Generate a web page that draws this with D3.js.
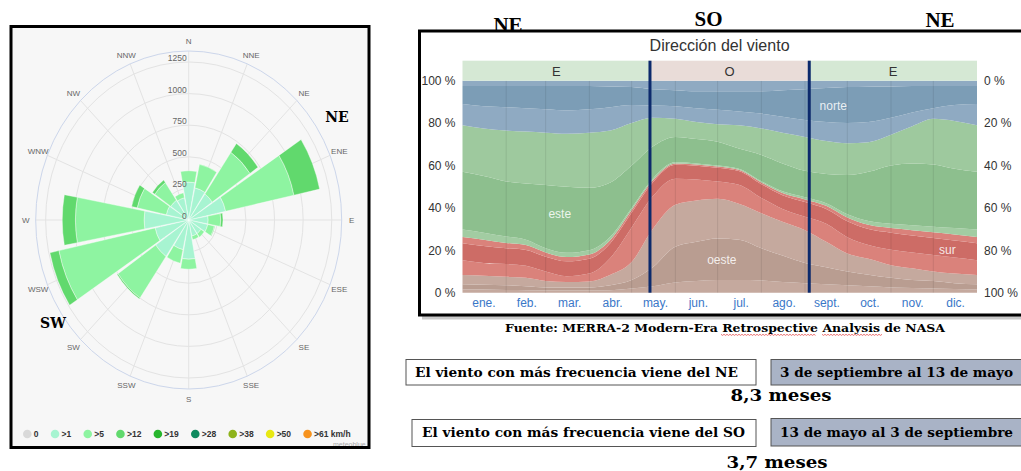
<!DOCTYPE html>
<html>
<head>
<meta charset="utf-8">
<script src="https://cdn.jsdelivr.net/npm/d3@7"></script>
<style>
  body { margin: 0; background: #fff; }
  svg { display: block; }
</style>
</head>
<body>
<div class="container"></div>
<script>
// ---------- wind rose (left) ----------
var roseDirections = ["N","NNE","NE","ENE","E","ESE","SE","SSE","S","SSW","SW","WSW","W","WNW","NW","NNW"];
var roseOver1  = [300, 260, 250, 330, 170, 170, 130, 130, 310, 240, 350, 300, 390, 200, 190, 180];
var roseOver5  = [ 90, 190, 400, 610, 110,  60,  35,  30,  80, 110, 400, 860, 600, 260, 170,  40];
var roseOver12 = [  0,   0,  85, 230,  20,   5,   0,   0,   0,   0,  10,  80, 115,  50,  25,   0];
var roseTicks = [0, 250, 500, 750, 1000, 1250];
var roseMax = 1337;
var legendLabels = ["0", ">1", ">5", ">12", ">19", ">28", ">38", ">50", ">61 km/h"];

// ---------- wind direction (right) ----------
var monthLabels = ["ene.","feb.","mar.","abr.","may.","jun.","jul.","ago.","sept.","oct.","nov.","dic."];
var monthStarts = [0, 31, 59, 90, 120, 151, 181, 212, 243, 273, 304, 334, 365];
var sampleDays  = [0, 15, 31, 45, 59, 74, 90, 105, 120, 135, 151, 166, 181, 196, 212, 227, 243, 258, 273, 288, 304, 319, 334, 349, 365];
var seasonStart = [0, 133, 246];
var seasonEnd   = [133, 246, 365];
var seasonLabel = ["E", "O", "E"];
var changeDays  = [133, 246];

// percentage of hours, stacked from the bottom (0 %) to the top (100 %)
var noroesteOeste = [1.5,1.5,1.3,1.2,1,1,1,1.2,2,3,4.8,5.5,6,6,5.8,5,4.5,4,3.5,3,2.5,2.2,2,1.8,1.5];
var oeste         = [2.5,2.3,2.2,1.8,1.5,1.5,1.5,2.3,4,9,16.9,18.5,19.6,19,15.2,12.5,9.5,8,6.5,5.5,4.5,3.8,3.5,2.7,2.5];
var suroesteOeste = [4.3,4.2,4,4,3,2.5,2.8,5,8.5,18,19.8,19.5,18.7,17,16.5,16,15.5,12,8.5,7.5,6,5.5,4.5,4.5,4.3];
var suroesteSur   = [7,6,6,5.7,4.5,2.8,3.7,8,16.3,15.5,12.3,9.9,8.1,8.9,7.2,6,6.3,8.5,7.7,6.5,7.3,7.5,7.8,7.6,7];
var sur           = [8,8,7.5,7.5,7,7,7,7,7,6.5,6.5,6.5,6.5,6.5,6.5,6.5,7,7,7.5,7.5,8,8,8,8,8];
var suresteSur    = [3,3,2.5,2.3,2,2,2,1.5,1.2,1,0.7,0.6,0.6,0.6,0.8,1,1.2,1.5,1.8,2,2.2,2.5,2.7,2.9,3];
var suresteEste   = [3.5,3.3,3,2.5,2,2,2,1.5,1,0.8,0.5,0.5,0.5,0.5,0.6,0.8,1,1.2,1.5,1.8,2,2.3,2.6,3,3.5];
var este          = [27.2,26.7,26,26.5,29.8,31.2,29.5,25.5,20,15.2,12,11.5,11.2,9.5,12.4,13.2,12.5,13.8,18.5,23.2,27.5,29.2,29.4,28,27.2];
var noresteEste   = [22,22.5,24,24.5,24.7,25,26,24.5,20,13.5,8.5,8,8.3,11,12.5,14.5,16,15.5,15,14,14.5,17.5,21.5,22.5,22];
var noresteNorte  = [10,10.5,11,11,11,11,11,11,8.5,5.8,6,6.5,6.8,6.5,7,7.5,8,9,9.5,9.5,8,6.5,5,7.5,10];
var norte         = [8.5,9.5,10,10.5,11,11.5,11,9.8,8.5,7.7,7.5,8,8.7,9.5,10.5,12.5,14.5,16,17,16.7,14.8,12.5,10.5,9,8.5];
var noroesteNorte = [2.5,2.5,2.5,2.5,2.5,2.5,2.5,2.7,3,4,4.5,5,5,5,5,4.5,4,3.5,3,2.8,2.7,2.5,2.5,2.5,2.5];

var layerKeys = ["noroesteOeste","oeste","suroesteOeste","suroesteSur","sur","suresteSur",
                 "suresteEste","este","noresteEste","noresteNorte","norte","noroesteNorte"];
var layerValues = [noroesteOeste, oeste, suroesteOeste, suroesteSur, sur, suresteSur,
                   suresteEste, este, noresteEste, noresteNorte, norte, noroesteNorte];

// colours
var rosePalette = ["#a7f4d1", "#8ef4a1", "#61d96d"];
var legendPalette = ["#d9d9d9","#a7f4d1","#8ef4a1","#61d96d","#27b52d","#0f8a5f","#8eb31b","#e8e812","#f7931e"];
var layerPalette = ["#c5a99e","#b99d91","#c5a99e","#da827b","#cd6c66","#da827b",
                    "#a2cca2","#8dbf8e","#9ec99e","#8faac2","#7c9db6","#8faac2"];

var W = 1021, H = 471;
var svg = d3.select("div.container").append("svg")
  .attr("width", W).attr("height", H)
  .style("font-family", "'Liberation Sans', Arial, sans-serif");

svg.append("rect").attr("width", W).attr("height", H).attr("fill", "#fff");

drawRose();
drawDirection();
drawNotes();

function drawRose(){

  //panel background
  svg.append("rect")
    .attr("x", 11).attr("y", 26).attr("width", 358).attr("height", 422)
    .attr("fill", "#f7f7f7");

  var cx = 188.7, cy = 220, ry = 169, sx = 153/169;
  var r = d3.scaleLinear().domain([0, roseMax]).range([0, ry]);
  var step = 2*Math.PI/roseDirections.length;

  var g = svg.append("g")
    .attr("transform", `translate(${cx},${cy}) scale(${sx},1)`);

  //rings
  g.selectAll(".ring")
    .data(roseTicks.slice(1))
    .enter().append("circle")
      .attr("r", d => r(d))
      .attr("fill", "none")
      .attr("stroke", "#e3e3e3")
      .attr("vector-effect", "non-scaling-stroke");

  //spokes
  g.selectAll(".spoke")
    .data(roseDirections)
    .enter().append("line")
      .attr("x2", (d,i) => ry*Math.sin(i*step))
      .attr("y2", (d,i) => -ry*Math.cos(i*step))
      .attr("stroke", "#e3e3e3")
      .attr("vector-effect", "non-scaling-stroke");

  g.append("circle")
    .attr("r", ry)
    .attr("fill", "none")
    .attr("stroke", "#ccd6eb")
    .attr("vector-effect", "non-scaling-stroke");

  //stacked bars
  var arc = d3.arc();
  var half = step/2 - 0.014;
  var segs = [];
  roseDirections.forEach(function(d,i){
    var a = i*step, base = 0;
    [roseOver1[i], roseOver5[i], roseOver12[i]].forEach(function(v,k){
      if (v > 0) segs.push({a: a, r0: base, r1: base+v, k: k});
      base += v;
    });
  });

  g.selectAll(".bar")
    .data(segs)
    .enter().append("path")
      .attr("d", d => arc({innerRadius: r(d.r0), outerRadius: r(d.r1), startAngle: d.a-half, endAngle: d.a+half}))
      .attr("fill", d => rosePalette[d.k])
      .attr("stroke", "#fff")
      .attr("stroke-width", 0.4)
      .attr("vector-effect", "non-scaling-stroke");

  //tick labels
  svg.selectAll(".rtick")
    .data(roseTicks)
    .enter().append("text")
      .attr("x", cx - 2)
      .attr("y", d => cy - r(d) - 1)
      .attr("text-anchor", "end")
      .attr("font-size", 8.5)
      .attr("fill", "#666")
      .text(d => d);

  //direction labels
  svg.selectAll(".rdir")
    .data(roseDirections)
    .enter().append("text")
      .attr("x", (d,i) => cx + 163*Math.sin(i*step))
      .attr("y", (d,i) => cy - 179*Math.cos(i*step) + 3)
      .attr("text-anchor", "middle")
      .attr("font-size", 8)
      .attr("fill", "#666")
      .text(d => d);

  //legend
  var lx = 22.8;
  var leg = svg.append("g").attr("font-size", 8.5).attr("font-weight", "bold").attr("fill", "#333");
  legendLabels.forEach(function(t,i){
    leg.append("circle").attr("cx", lx+4.5).attr("cy", 434).attr("r", 4.3).attr("fill", legendPalette[i]);
    var tx = leg.append("text").attr("x", lx+11).attr("y", 437.2).text(t);
    lx += 11 + tx.node().getComputedTextLength() + 12;
  });

  svg.append("text")
    .attr("x", 333).attr("y", 447)
    .attr("font-size", 7).attr("fill", "#aaa")
    .text("meteoblue");

  //annotations
  svg.append("text").attr("x", 337).attr("y", 122)
    .attr("text-anchor", "middle")
    .attr("font-family", "'DejaVu Serif', serif").attr("font-weight", "bold").attr("font-size", 14)
    .text("NE");
  svg.append("text").attr("x", 53).attr("y", 328)
    .attr("text-anchor", "middle")
    .attr("font-family", "'DejaVu Serif', serif").attr("font-weight", "bold").attr("font-size", 14)
    .text("SW");

  //frame
  svg.append("rect")
    .attr("x", 11).attr("y", 26.5).attr("width", 358).attr("height", 421)
    .attr("fill", "none").attr("stroke", "#000").attr("stroke-width", 3);
}

function drawDirection(){

  var left = 462.5, right = 977, top = 80.7, bottom = 292.7, stripTop = 60.7;

  //heading half hidden behind the frame
  svg.append("text").attr("x", 508).attr("y", 32)
    .attr("text-anchor", "middle")
    .attr("font-family", "'Liberation Serif', serif").attr("font-weight", "bold").attr("font-size", 21)
    .text("NE");

  //shadow + frame
  svg.append("rect")
    .attr("x", 422).attr("y", 316).attr("width", 610).attr("height", 3.5)
    .attr("fill", "#c9c9c9");
  svg.append("rect")
    .attr("x", 419.5).attr("y", 31).attr("width", 620).attr("height", 284)
    .attr("fill", "#fff").attr("stroke", "#000").attr("stroke-width", 3);

  svg.append("text").attr("x", 708.5).attr("y", 25.5)
    .attr("text-anchor", "middle")
    .attr("font-family", "'Liberation Serif', serif").attr("font-weight", "bold").attr("font-size", 21)
    .text("SO");
  svg.append("text").attr("x", 940).attr("y", 26.5)
    .attr("text-anchor", "middle")
    .attr("font-family", "'Liberation Serif', serif").attr("font-weight", "bold").attr("font-size", 21)
    .text("NE");

  svg.append("text").attr("x", 719.6).attr("y", 51)
    .attr("text-anchor", "middle")
    .attr("font-size", 16).attr("fill", "#333")
    .attr("textLength", 140).attr("lengthAdjust", "spacingAndGlyphs")
    .text("Dirección del viento");

  var x = d3.scaleLinear().domain([0, 365]).range([left, right]);
  var y = d3.scaleLinear().domain([0, 100]).range([bottom, top]);
  var yRight = d3.scaleLinear().domain([0, 100]).range([top, bottom]);

  //table for the stack
  var table = sampleDays.map(function(day,i){
    var row = {day: day};
    layerKeys.forEach(function(k,j){ row[k] = layerValues[j][i]; });
    return row;
  });
  var series = d3.stack().keys(layerKeys)(table);

  var area = d3.area()
    .x(d => x(d.data.day))
    .y0(d => y(d[0]))
    .y1(d => y(d[1]))
    .curve(d3.curveMonotoneX);

  svg.append("g").selectAll("path")
    .data(series)
    .enter().append("path")
      .attr("d", area)
      .attr("fill", (d,i) => layerPalette[i]);

  //month grid
  svg.append("g").selectAll("line")
    .data(monthStarts.slice(1, -1))
    .enter().append("line")
      .attr("x1", d => x(d)).attr("x2", d => x(d))
      .attr("y1", top).attr("y2", bottom)
      .attr("stroke", "rgba(0,0,0,0.09)");

  //season strip
  var strip = svg.append("g");
  strip.selectAll("rect")
    .data(seasonLabel)
    .enter().append("rect")
      .attr("x", (d,i) => x(seasonStart[i]))
      .attr("y", stripTop)
      .attr("width", (d,i) => x(seasonEnd[i]) - x(seasonStart[i]))
      .attr("height", top - stripTop)
      .attr("fill", d => d === "E" ? "#d5e8d4" : "#e9dcd8");
  strip.selectAll("text")
    .data(seasonLabel)
    .enter().append("text")
      .attr("x", (d,i) => x((seasonStart[i] + seasonEnd[i])/2))
      .attr("y", stripTop + 15)
      .attr("text-anchor", "middle")
      .attr("font-size", 13).attr("fill", "#333")
      .text(d => d);

  //change lines
  svg.append("g").selectAll("line")
    .data(changeDays)
    .enter().append("line")
      .attr("x1", d => x(d)).attr("x2", d => x(d))
      .attr("y1", stripTop).attr("y2", bottom)
      .attr("stroke", "#0c2a6c").attr("stroke-width", 3);

  //series labels
  var tags = [["este", 69, 37], ["oeste", 184, 15.5], ["norte", 263, 88], ["sur", 344, 20]];
  svg.append("g").selectAll("text")
    .data(tags)
    .enter().append("text")
      .attr("x", d => x(d[1]))
      .attr("y", d => y(d[2]) + 4)
      .attr("text-anchor", "middle")
      .attr("font-size", 12)
      .attr("fill", "rgba(255,255,255,0.85)")
      .text(d => d[0]);

  //axes
  var yAxisL = svg.append("g")
    .attr("transform", `translate(${left - 4},0)`)
    .call(d3.axisLeft(y).tickValues([0,20,40,60,80,100]).tickSize(0).tickFormat(d => d + " %"));
  var yAxisR = svg.append("g")
    .attr("transform", `translate(${right + 4},0)`)
    .call(d3.axisRight(yRight).tickValues([0,20,40,60,80,100]).tickSize(0).tickFormat(d => d + " %"));
  var months = d3.scaleBand().domain(monthLabels).range([left, right]);
  var xAxis = svg.append("g")
    .attr("transform", `translate(0,${bottom + 3})`)
    .call(d3.axisBottom(months).tickSize(0));

  [yAxisL, yAxisR, xAxis].forEach(function(a){
    a.select(".domain").remove();
    a.selectAll("text")
      .attr("font-family", "'Liberation Sans Narrow', 'Liberation Sans', Arial, sans-serif")
      .attr("font-size", 12)
      .attr("fill", "#333");
  });
  xAxis.selectAll("text").attr("fill", "#3a77c8");
}

function drawNotes(){

  var serif = "'DejaVu Serif', serif";

  svg.append("text").attr("x", 725).attr("y", 331.5)
    .attr("text-anchor", "middle")
    .attr("font-family", serif).attr("font-weight", "bold").attr("font-size", 11)
    .attr("textLength", 440).attr("lengthAdjust", "spacingAndGlyphs")
    .text("Fuente: MERRA-2 Modern-Era Retrospective Analysis de NASA");

  //spell-check squiggles under two words
  [[721, 816], [822, 883]].forEach(function(s){
    var pts = [];
    for (var px = s[0], k = 0; px <= s[1]; px += 1.5, k++) pts.push([px, 334.5 + (k % 2 ? 0.9 : -0.2)]);
    svg.append("path").attr("d", d3.line()(pts))
      .attr("fill", "none").attr("stroke", "#e23b3b").attr("stroke-width", 0.7);
  });

  var boxes = [
    {x: 406, y: 359.5, w: 350, h: 25.5, fill: "#fff", text: "El viento con más frecuencia viene del NE", tx: 415, tl: 323},
    {x: 771, y: 359.5, w: 260, h: 25.5, fill: "#a9b3c6", text: "3 de septiembre al 13 de mayo", tx: 780, tl: 233},
    {x: 412, y: 419.5, w: 344, h: 27, fill: "#fff", text: "El viento con más frecuencia viene del SO", tx: 422, tl: 323},
    {x: 771, y: 418.5, w: 260, h: 27.5, fill: "#a9b3c6", text: "13 de mayo al 3 de septiembre", tx: 780, tl: 233}
  ];
  boxes.forEach(function(b){
    svg.append("rect").attr("x", b.x).attr("y", b.y).attr("width", b.w).attr("height", b.h)
      .attr("fill", b.fill).attr("stroke", "#555").attr("stroke-width", 1);
    svg.append("text").attr("x", b.tx).attr("y", b.y + b.h/2 + 4.3)
      .attr("font-family", serif).attr("font-weight", "bold").attr("font-size", 12)
      .attr("textLength", b.tl).attr("lengthAdjust", "spacingAndGlyphs")
      .text(b.text);
  });

  svg.append("text").attr("x", 781).attr("y", 401)
    .attr("text-anchor", "middle")
    .attr("font-family", serif).attr("font-weight", "bold").attr("font-size", 17)
    .attr("textLength", 101).attr("lengthAdjust", "spacingAndGlyphs")
    .text("8,3 meses");
  svg.append("text").attr("x", 777).attr("y", 467.5)
    .attr("text-anchor", "middle")
    .attr("font-family", serif).attr("font-weight", "bold").attr("font-size", 16.5)
    .attr("textLength", 101).attr("lengthAdjust", "spacingAndGlyphs")
    .text("3,7 meses");
}
</script>
</body>
</html>
